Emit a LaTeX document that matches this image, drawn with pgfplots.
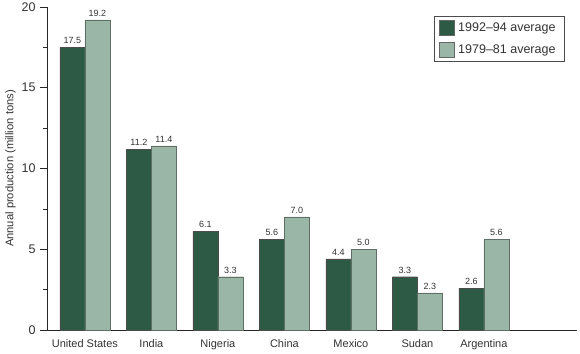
\documentclass[border=0pt]{standalone}
\usepackage{pgfplots}
\pgfplotsset{compat=1.18}
\usepackage{fontspec}
\setmainfont{Liberation Sans}
\definecolor{dk}{HTML}{2D5A44}
\definecolor{lt}{HTML}{9AB6A6}
\definecolor{edge}{HTML}{5F6F66}
\begin{document}
\begin{tikzpicture}
\begin{axis}[
  width=530pt, height=323pt, scale only axis,
  xmin=-0.57, xmax=7.4, ymin=0, ymax=20,
  axis x line*=bottom, axis y line*=left,
  axis line style={line width=0.8pt, color=black!85},
  xtick={0,1,2,3,4,5,6},
  xticklabels={United States,India,Nigeria,China,Mexico,Sudan,Argentina},
  x tick style={draw=none},
  xticklabel style={yshift=1pt, font=\fontsize{11}{13}\selectfont},
  ytick={0,5,10,15,20},
  minor ytick={2.5,7.5,12.5,17.5},
  tick align=outside,
  major tick length=7pt, minor tick length=4pt,
  y tick style={line width=0.6pt, color=black!85},
  tick label style={font=\fontsize{12.5}{14}\selectfont, color=black!80},
  yticklabel style={xshift=-1pt},
  /pgf/number format/assume math mode=true,
  ylabel={Annual production (million tons)},
  ylabel style={font=\fontsize{11.2}{12}\selectfont, color=black!80, yshift=-1pt},
  ybar=0pt, bar width=25pt,
  nodes near coords,
  nodes near coords style={font=\fontsize{9}{10}\selectfont, color=black!80, /pgf/number format/.cd, fixed, fixed zerofill, precision=1, assume math mode=true},
  legend style={at={(rel axis cs:0.977,0.972)}, anchor=north east, draw=black!70, line width=0.6pt,
    font=\fontsize{12.5}{15}\selectfont, row sep=6pt, inner xsep=5pt, inner ysep=4pt, text=black!80,
    nodes={inner xsep=4pt}},
  legend image code/.code={\draw[#1, draw=black!60] (0cm,-0.26cm) rectangle (0.52cm,0.26cm);},
  legend cell align=left,
]
\addplot[fill=dk, draw=black!70] coordinates {(0,17.5) (1,11.2) (2,6.1) (3,5.6) (4,4.4) (5,3.3) (6,2.6)};
\addplot[fill=lt, draw=edge] coordinates {(0,19.2) (1,11.4) (2,3.3) (3,7.0) (4,5.0) (5,2.3) (6,5.6)};
\legend{1992--94 average, 1979--81 average}
\end{axis}
\pgfresetboundingbox
\path (current axis.south west) ++(-47pt,-23pt) rectangle ++(580pt,353pt);
\end{tikzpicture}
\end{document}
